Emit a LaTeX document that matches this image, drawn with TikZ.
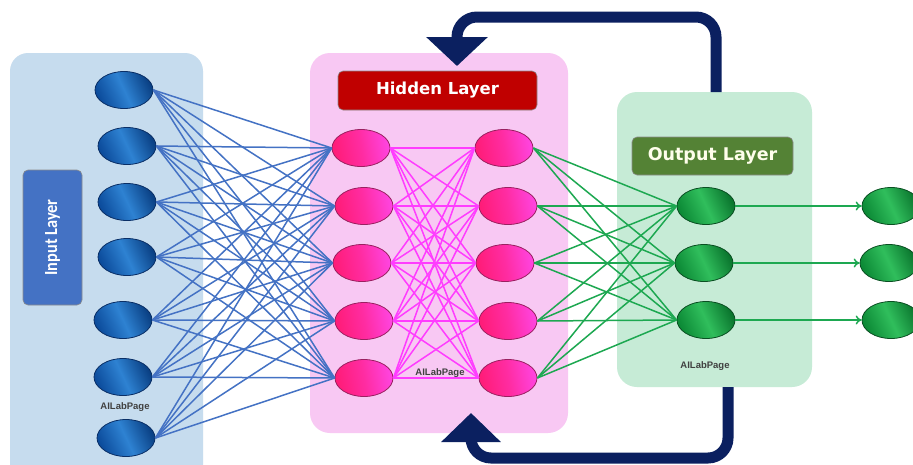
\documentclass[tikz,border=0pt]{standalone}
\usepackage{fontspec}
\setmainfont{DejaVu Sans}
\newfontfamily\carl{Carlito}
\newfontfamily\lib{Liberation Sans}
\usetikzlibrary{arrows.meta,shapes.geometric}
\definecolor{inpanel}{HTML}{C6DCEE}
\definecolor{hidpanel}{HTML}{F8C8F3}
\definecolor{outpanel}{HTML}{C6EBD6}
\definecolor{inbox}{HTML}{4472C4}
\definecolor{hidbox}{HTML}{C00000}
\definecolor{outbox}{HTML}{548235}
\definecolor{navy}{HTML}{0B2060}
\definecolor{blueline}{HTML}{4472C4}
\definecolor{pinkline}{HTML}{FF3CFF}
\definecolor{greenline}{HTML}{1DA851}
\definecolor{bdark}{HTML}{0C4C9C}
\definecolor{blight}{HTML}{2E82D2}
\definecolor{bedge}{HTML}{0A2F66}
\definecolor{pdark}{HTML}{FF1C78}
\definecolor{plight}{HTML}{FF44E0}
\definecolor{pedge}{HTML}{9A2060}
\definecolor{gdark}{HTML}{0C8A36}
\definecolor{glight}{HTML}{30BE5C}
\definecolor{gedge}{HTML}{0A4F22}
\begin{document}
\begin{tikzpicture}[x=1pt,y=-1pt,
  neuron/.style={ellipse,minimum width=58pt,minimum height=37pt,inner sep=0pt,line width=0.8pt},
  bnode/.style={neuron,draw=bedge,left color=bdark,right color=bdark!85!black,middle color=blight,shading angle=115},
  pnode/.style={neuron,draw=pedge,left color=pdark,right color=plight,middle color=pdark!60!plight,shading angle=100},
  gnode/.style={neuron,draw=gedge,left color=gdark,right color=gdark!85!black,middle color=glight,shading angle=115},
  lbl/.style={rounded corners=5pt,draw=black!45,line width=0.6pt,inner sep=0pt},
  wmark/.style={font=\lib\bfseries\fontsize{9.5}{10}\selectfont,text=black!75},
  fb/.style={draw=navy,line width=11pt,rounded corners=20pt,-{Triangle[width=60pt,length=29pt]}},
  conn/.style={line width=1.5pt}
]
\clip (0,0) rectangle (913,464);
\fill[white] (0,0) rectangle (913,464);
% panels
\fill[inpanel,rounded corners=18pt] (10,53) rectangle (203,490);
\fill[hidpanel,rounded corners=20pt] (310,53) rectangle (568,433);
\fill[outpanel,rounded corners=20pt] (617,92) rectangle (812,387);
% feedback arrows
\coordinate (ftop) at (716,92);
\coordinate (ftip) at (457,66);
\coordinate (fbot) at (728,387);
\coordinate (btip) at (471,413);
\draw[fb] (ftop) -- (716,17) -- (457,17) -- (ftip);
\draw[fb,-{Triangle[width=58pt,length=29pt]}] (fbot) -- (728,458) -- (471,458) -- (btip);
% label boxes
\node[lbl,fill=inbox,rotate=90,minimum width=135pt,minimum height=59pt,text=white,
  font=\carl\bfseries\fontsize{18.5}{19}\selectfont] (inlbl) at (52.5,237.5) {\scalebox{0.88}[1]{Input Layer}};
\node[lbl,fill=hidbox,minimum width=199pt,minimum height=39pt,text=white,
  font=\bfseries\fontsize{16.5}{17}\selectfont] (hidlbl) at (437.5,90.5) {Hidden Layer};
\node[lbl,fill=outbox,minimum width=161pt,minimum height=38pt,text=white!92!yellow,
  font=\bfseries\fontsize{17.5}{18}\selectfont] (outlbl) at (712.5,156) {Output Layer};
% neurons
\foreach \n/\x/\y in {1/124/90,2/127/146,3/127/202,4/127/257,5/123/320,6/123/377,7/126/438}
  \node[bnode] (i\n) at (\x,\y) {};
\foreach \n/\x/\y in {1/361/148,2/364/206,3/362/263,4/364/321,5/364/378}
  \node[pnode] (a\n) at (\x,\y) {};
\foreach \n/\x/\y in {1/504/148,2/508/206,3/505/263,4/508/321,5/508/378}
  \node[pnode] (b\n) at (\x,\y) {};
\foreach \n/\x/\y in {1/706/206,2/704/263,3/706/320}
  \node[gnode] (o\n) at (\x,\y) {};
\foreach \n/\x/\y in {1/891/206,2/889/263,3/891/320}
  \node[gnode] (f\n) at (\x,\y) {};
% connections
\foreach \i in {1,...,7}
  \foreach \j in {1,...,5}
    \draw[conn,blueline] (i\i.east) -- (a\j.west);
\foreach \i in {1,...,5}
  \foreach \j in {1,...,5}
    \draw[conn,pinkline] (a\i.east) -- (b\j.west);
\foreach \i in {1,...,5}
  \foreach \j in {1,...,3}
    \draw[conn,greenline] (b\i.east) -- (o\j.west);
\foreach \i in {1,...,3}
  \draw[conn,greenline,-{To[length=6pt,width=9pt]}] (o\i.east) -- (f\i.west);
% labels
\node[wmark] (m1) at (125,407) {AILabPage};
\node[wmark] (m2) at (440,373) {AILabPage};
\node[wmark] (m3) at (705,366) {AILabPage};
\end{tikzpicture}
\end{document}
